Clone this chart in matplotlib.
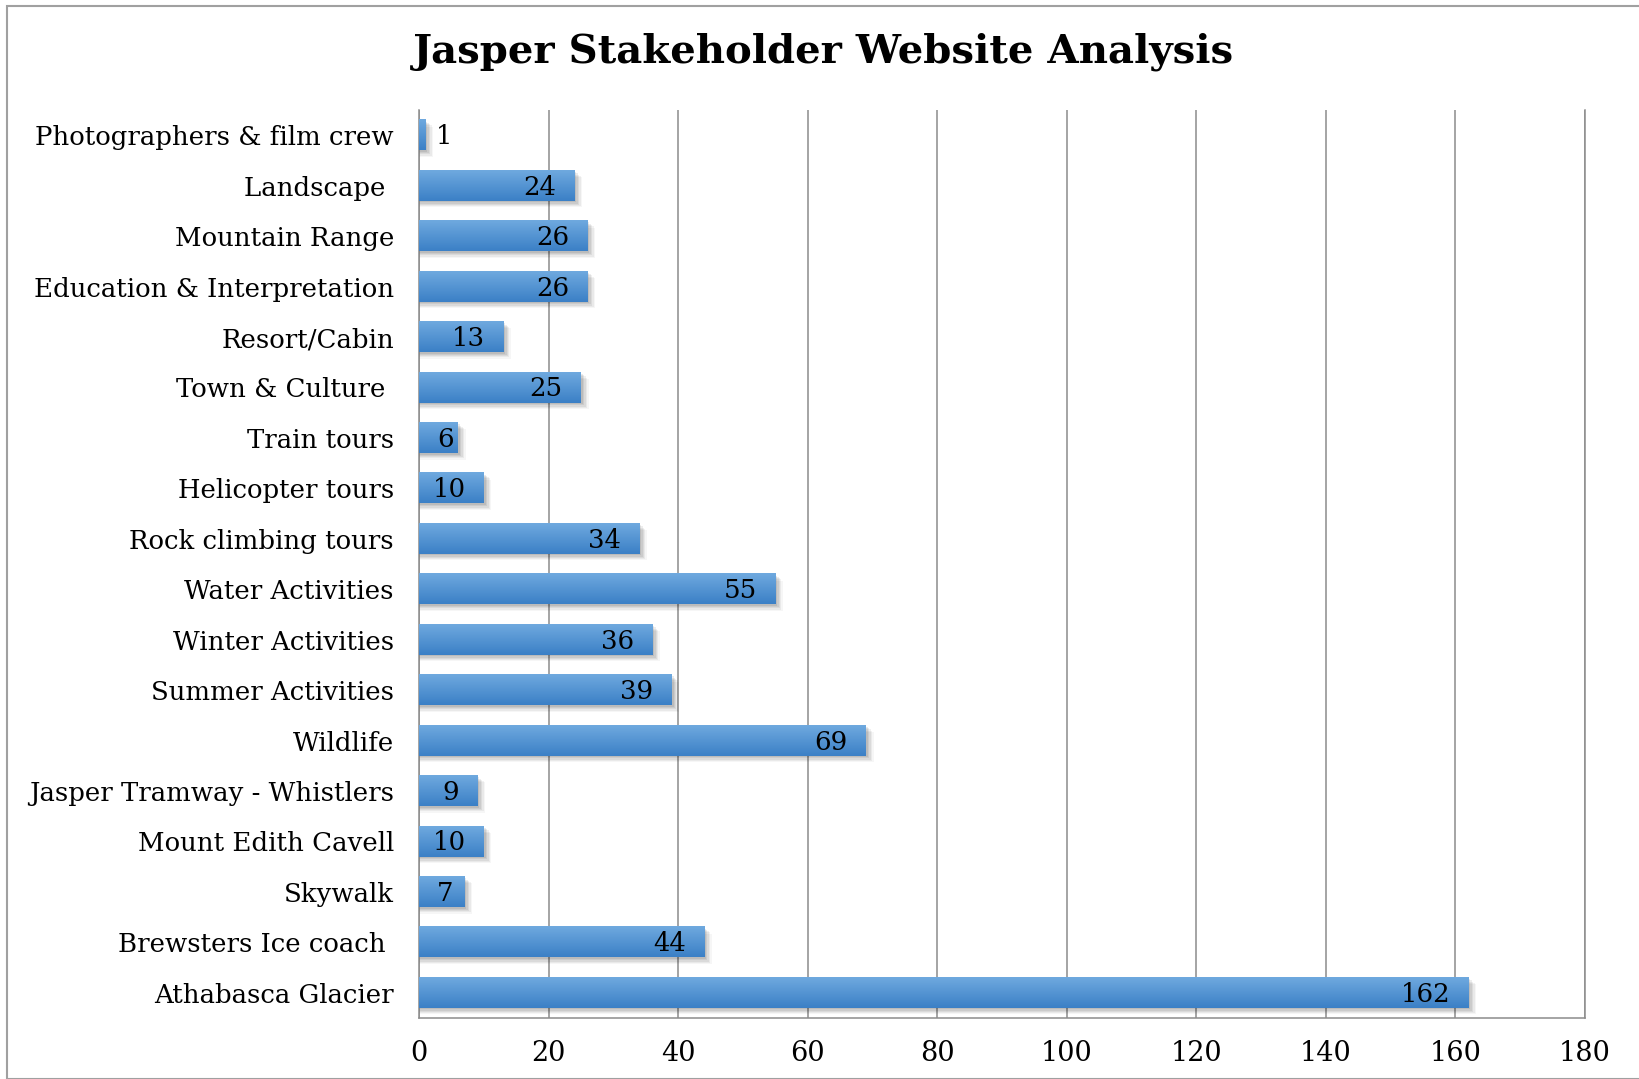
import matplotlib
matplotlib.use("Agg")
import matplotlib.pyplot as plt
import numpy as np
from matplotlib.patches import Rectangle
from matplotlib.colors import LinearSegmentedColormap

categories = ["Photographers & film crew", "Landscape ", "Mountain Range",
              "Education & Interpretation", "Resort/Cabin", "Town & Culture ",
              "Train tours", "Helicopter tours", "Rock climbing tours",
              "Water Activities", "Winter Activities", "Summer Activities",
              "Wildlife", "Jasper Tramway - Whistlers", "Mount Edith Cavell",
              "Skywalk", "Brewsters Ice coach ", "Athabasca Glacier"]
values = [1, 24, 26, 26, 13, 25, 6, 10, 34, 55, 36, 39, 69, 9, 10, 7, 44, 162]
xticks = [0, 20, 40, 60, 80, 100, 120, 140, 160, 180]

FONT = "DejaVu Serif"
FS = 18.7
W, H = 1639, 1079
fig = plt.figure(figsize=(W / 100, H / 100), dpi=100)
fig.patch.set_facecolor("white")

# outer border
fig.add_artist(Rectangle((7 / W, 0), 1.2, 1 - 6 / H, transform=fig.transFigure,
                         fill=False, edgecolor="#a0a0a0", lw=1.5))

left, right, top, bottom = 419, 1585, 110, 1018
ax = fig.add_axes([left / W, 1 - bottom / H, (right - left) / W, (bottom - top) / H])

cmap = LinearSegmentedColormap.from_list("bar", ["#6fa9df", "#3b80c6"])
grad = np.linspace(0, 1, 64).reshape(-1, 1)
bh = 0.6
ys = np.arange(len(values))
inset = 2.8          # data units (~18 px)
digit_w = 2.0        # approx width of one digit in data units
for y, v in zip(ys, values):
    # shadow
    for k, a in zip(range(5), [0.08, 0.07, 0.06, 0.05, 0.035]):
        off = 0.03 + k * 0.025
        ax.add_patch(Rectangle((0.0, y - bh / 2 + off), v + 0.3 + k * 0.22, bh,
                               facecolor="black", alpha=a, lw=0, zorder=2))
    ax.imshow(grad, cmap=cmap, aspect="auto", extent=(0, v, y + bh / 2, y - bh / 2),
              zorder=3, interpolation="bilinear")
    lw_ = len(str(v)) * digit_w
    if v < 2 * inset:
        ax.text(v + 1.6, y + 0.03, str(v), ha="left", va="center", fontsize=FS,
                family=FONT, color="black", zorder=4)
    elif v - inset - lw_ < inset:
        ax.text(inset, y + 0.03, str(v), ha="left", va="center", fontsize=FS,
                family=FONT, color="black", zorder=4)
    else:
        ax.text(v - inset, y + 0.03, str(v), ha="right", va="center", fontsize=FS,
                family=FONT, color="black", zorder=4)

ax.set_xlim(0, 180)
ax.set_ylim(len(values) - 0.5, -0.5)
ax.set_xticks(xticks)
ax.set_xticklabels([str(t) for t in xticks], fontsize=19.5, family=FONT)
ax.set_yticks(ys)
ax.set_yticklabels(categories, fontsize=FS, family=FONT)
ax.tick_params(axis="both", length=0)
ax.tick_params(axis="y", pad=18)
ax.tick_params(axis="x", pad=16)
ax.grid(axis="x", color="#8c8c8c", lw=1.1, zorder=1)
ax.set_axisbelow(True)
for s in ["top"]:
    ax.spines[s].set_visible(False)
for s in ["left", "bottom", "right"]:
    ax.spines[s].set_color("#8c8c8c")
    ax.spines[s].set_linewidth(1.1)

fig.text(823 / W, 1 - 52 / H, "Jasper Stakeholder Website Analysis", ha="center",
         va="center", fontsize=29, fontweight="bold", family=FONT)

fig.savefig("out.png", dpi=100)
